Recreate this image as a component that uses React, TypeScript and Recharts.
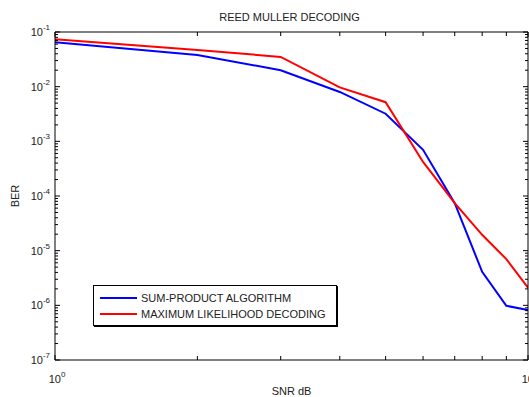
import React from "react";
import { LineChart, Line, XAxis, YAxis, Legend } from "recharts";

// SNR in dB
const SNR = [1, 2, 3, 4, 5, 6, 7, 8, 9, 10];
const SUM_PRODUCT = [0.065, 0.038, 0.02, 0.008, 0.0032, 7.0e-4, 7.4e-5, 4.1e-6, 9.8e-7, 8.2e-7];
const ML_DECODING = [0.074, 0.047, 0.035, 0.0097, 0.0052, 4.2e-4, 7.4e-5, 1.95e-5, 7.0e-6, 2.1e-6];

const X_TICKS = [1, 2, 3, 4, 5, 6, 7, 8, 9, 10];
const Y_EXPONENTS = [-7, -6, -5, -4, -3, -2, -1];
const SERIES_ORDER = ["SUM-PRODUCT ALGORITHM", "MAXIMUM LIKELIHOOD DECODING"];

const yTicks: number[] = [];
Y_EXPONENTS.forEach((e, i) => {
  const steps = i === Y_EXPONENTS.length - 1 ? [1] : [1, 2, 3, 4, 5, 6, 7, 8, 9];
  steps.forEach((m) => yTicks.push(Number((m * Math.pow(10, e)).toPrecision(3))));
});

const data = SNR.map((snr, i) => ({ snr, sp: SUM_PRODUCT[i], ml: ML_DECODING[i] }));

const FONT = "'Liberation Sans', Arial, sans-serif";

function decade(v: number) {
  const e = Math.round(Math.log10(v));
  return { e, major: Math.abs(v / Math.pow(10, e) - 1) < 1e-6 };
}

function YTick({ x, y, payload, side }: any) {
  const { e, major } = decade(payload.value);
  const len = major ? 5 : 3;
  const dir = side === "right" ? -1 : 1;
  return (
    <g>
      <line x1={x} y1={y} x2={x + dir * len} y2={y} stroke="#000" />
      {major && side !== "right" && (
        <text x={x - 5} y={y + 4} textAnchor="end" fontSize={11} fontFamily={FONT} fill="#222">
          10
          <tspan dy={-6} fontSize={8}>{e}</tspan>
        </text>
      )}
    </g>
  );
}

function XTick({ x, y, payload, side }: any) {
  const { e, major } = decade(payload.value);
  const len = major ? 5 : 4;
  const dir = side === "top" ? 1 : -1;
  return (
    <g>
      <line x1={x} y1={y} x2={x} y2={y + dir * len} stroke="#000" />
      {major && side !== "top" && (
        <text x={x + 2} y={y + 23} textAnchor="middle" fontSize={11} fontFamily={FONT} fill="#222">
          10
          <tspan dy={-6} fontSize={8}>{e}</tspan>
        </text>
      )}
    </g>
  );
}

function LegendBox({ payload }: any) {
  const items = [...(payload || [])].sort(
    (a: any, b: any) => SERIES_ORDER.indexOf(a.value) - SERIES_ORDER.indexOf(b.value)
  );
  return (
    <div
      style={{
        width: 244,
        height: 41,
        boxSizing: "border-box",
        border: "1px solid #000",
        boxShadow: "1px 1px 0 #000",
        background: "#fff",
        padding: "4px 0 0 6px",
        fontFamily: FONT,
        fontSize: 11,
        color: "#222",
      }}
    >
      {items.map((p: any) => (
        <div key={p.value} style={{ display: "flex", alignItems: "center", height: 16 }}>
          <div style={{ width: 37, height: 2, background: p.color, marginRight: 4 }} />
          <span>{p.value}</span>
        </div>
      ))}
    </div>
  );
}

export default function App() {
  return (
    <div style={{ position: "absolute", left: 0, top: 0, background: "#fff" }}>
      <LineChart width={529} height={397} data={data} margin={{ top: 31, right: 0, bottom: 0, left: 0 }}>
        <XAxis
          dataKey="snr"
          type="number"
          scale="log"
          domain={[1, 10]}
          ticks={X_TICKS}
          interval={0}
          allowDataOverflow
          height={37}
          tickSize={0}
          tickMargin={0}
          tickLine={false}
          axisLine={{ stroke: "#000" }}
          tick={<XTick side="bottom" />}
          label={{
            content: ({ viewBox }: any) => (
              <text x={viewBox.x + viewBox.width / 2} y={viewBox.y + 35} textAnchor="middle" fontSize={11} fontFamily={FONT} fill="#222">
                SNR dB
              </text>
            ),
          }}
        />
        <XAxis
          xAxisId="top"
          dataKey="snr"
          orientation="top"
          type="number"
          scale="log"
          domain={[1, 10]}
          ticks={X_TICKS}
          interval={0}
          allowDataOverflow
          height={1}
          tickSize={0}
          tickMargin={0}
          tickLine={false}
          axisLine={{ stroke: "#000" }}
          tick={<XTick side="top" />}
          label={{
            content: ({ viewBox }: any) => (
              <text x={viewBox.x + viewBox.width / 2 - 2} y={viewBox.y + viewBox.height - 11} textAnchor="middle" fontSize={11} fontFamily={FONT} fill="#222">
                REED MULLER DECODING
              </text>
            ),
          }}
        />
        <YAxis
          type="number"
          scale="log"
          domain={[1e-7, 0.1]}
          ticks={yTicks}
          interval={0}
          allowDataOverflow
          width={55}
          tickSize={0}
          tickMargin={0}
          tickLine={false}
          axisLine={{ stroke: "#000" }}
          tick={<YTick side="left" />}
          label={{
            content: ({ viewBox }: any) => {
              const cx = viewBox.x + 19;
              const cy = viewBox.y + viewBox.height / 2;
              return (
                <text x={cx} y={cy} transform={`rotate(-90 ${cx} ${cy})`} textAnchor="middle" fontSize={11} fontFamily={FONT} fill="#222">
                  BER
                </text>
              );
            },
          }}
        />
        <YAxis
          yAxisId="right"
          orientation="right"
          type="number"
          scale="log"
          domain={[1e-7, 0.1]}
          ticks={yTicks}
          interval={0}
          allowDataOverflow
          width={1}
          tickSize={0}
          tickMargin={0}
          tickLine={false}
          axisLine={{ stroke: "#000" }}
          tick={<YTick side="right" />}
        />
        <Legend
          layout="vertical"
          align="center"
          verticalAlign="middle"
          wrapperStyle={{ left: 93, top: 285, width: 244 }}
          content={<LegendBox />}
        />
        <Line name="SUM-PRODUCT ALGORITHM" dataKey="sp" type="linear" stroke="#0000ff" strokeWidth={2} dot={false} isAnimationActive={false} />
        <Line
          name="MAXIMUM LIKELIHOOD DECODING"
          dataKey="ml"
          xAxisId="top"
          yAxisId="right"
          type="linear"
          stroke="#ff0000"
          strokeWidth={2}
          dot={false}
          isAnimationActive={false}
        />
      </LineChart>
    </div>
  );
}
